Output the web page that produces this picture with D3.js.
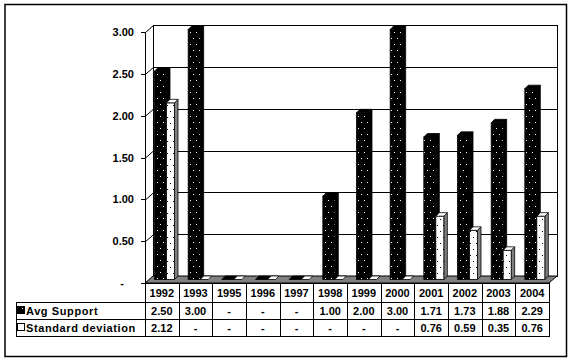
<!DOCTYPE html>
<html>
<head>
<meta charset="utf-8">
<script src="https://cdn.jsdelivr.net/npm/d3@7"></script>
<style>
  body { margin: 0; background: #fff; }
  text { font-family: Arial, "Liberation Sans", sans-serif; font-weight: bold; font-size: 11px; }
</style>
</head>
<body>
<svg id="chart" width="573" height="363"></svg>
<script>
const years = ['1992', '1993', '1995', '1996', '1997', '1998', '1999', '2000', '2001', '2002', '2003', '2004']
const avgSupport = [2.50, 3.00, null, null, null, 1.00, 2.00, 3.00, 1.71, 1.73, 1.88, 2.29]
const stdDev = [2.12, null, null, null, null, null, null, null, 0.76, 0.59, 0.35, 0.76]
const yTicks = [0, 0.5, 1, 1.5, 2, 2.5, 3]
const seriesNames = ['Avg Support', 'Standard deviation']

const svg = d3.select('#chart')

// depth offset of the 3d box
const dx = 8, dy = 7
const x = d3.scaleBand().domain(years).range([145, 549]).paddingInner(0).paddingOuter(0)
const yFront = d3.scaleLinear().domain([0, 3]).range([283, 32])
const yBack = d3.scaleLinear().domain([0, 3]).range([283 - dy, 32 - dy])
const yBar = d3.scaleLinear().domain([0, 3]).range([279.5, 29.5])

const defs = svg.append('defs')
const pDark = defs.append('pattern').attr('id', 'pDark')
  .attr('patternUnits', 'userSpaceOnUse').attr('width', 6).attr('height', 12)
pDark.append('rect').attr('width', 6).attr('height', 12).attr('fill', '#000')
pDark.append('rect').attr('x', 1).attr('y', 2).attr('width', 1).attr('height', 1).attr('fill', '#fff')
pDark.append('rect').attr('x', 4).attr('y', 8).attr('width', 1).attr('height', 1).attr('fill', '#fff')

const pLight = defs.append('pattern').attr('id', 'pLight')
  .attr('patternUnits', 'userSpaceOnUse').attr('width', 6).attr('height', 12)
pLight.append('rect').attr('width', 6).attr('height', 12).attr('fill', '#fff')
pLight.append('rect').attr('x', 2).attr('y', 3).attr('width', 1).attr('height', 1).attr('fill', '#000')
pLight.append('rect').attr('x', 5).attr('y', 9).attr('width', 1).attr('height', 1).attr('fill', '#000')

// outer frame
svg.append('rect').attr('x', 5).attr('y', 4.5).attr('width', 561.5).attr('height', 352)
  .attr('fill', '#fff').attr('stroke', '#000').attr('stroke-width', 1.5)

const x0 = x.range()[0], x1 = x.range()[1]

// back wall
svg.append('rect')
  .attr('x', x0 + dx + 0.5).attr('y', yBack(3) + 0.5)
  .attr('width', x1 - x0).attr('height', yBack(0) - yBack(3))
  .attr('fill', '#fff').attr('stroke', '#000')

// gridlines on back wall + diagonals on side wall
yTicks.forEach(function(t) {
  if (t > 0 && t < 3) {
    svg.append('line')
      .attr('x1', x0 + dx).attr('x2', x1 + dx)
      .attr('y1', Math.round(yBack(t)) + 0.5).attr('y2', Math.round(yBack(t)) + 0.5)
      .attr('stroke', '#000')
  }
  svg.append('line')
    .attr('x1', x0 + 0.5).attr('y1', yFront(t) + 0.5)
    .attr('x2', x0 + dx + 0.5).attr('y2', yBack(t) + 0.5)
    .attr('stroke', '#000')
  svg.append('line')
    .attr('x1', x0 - 4).attr('x2', x0 + 0.5)
    .attr('y1', Math.round(yFront(t)) + 0.5).attr('y2', Math.round(yFront(t)) + 0.5)
    .attr('stroke', '#000')
  svg.append('text')
    .attr('x', t === 0 ? 124 : 134).attr('y', yFront(t) + 4)
    .attr('text-anchor', 'end')
    .text(t === 0 ? '-' : d3.format('.2f')(t))
})

// side wall front edge
svg.append('line').attr('x1', x0 + 0.5).attr('x2', x0 + 0.5)
  .attr('y1', yFront(3)).attr('y2', yFront(0)).attr('stroke', '#000')

// floor
svg.append('path')
  .attr('d', d3.line()([[x0, yFront(0)], [x0 + dx, yBack(0)], [x1 + dx, yBack(0)], [x1, yFront(0)]]) + 'Z')
  .attr('fill', '#808080').attr('stroke', '#000')

// bars
const depth = 3.5
function drawBar(g, bx, w, v, frontFill, sideFill, topFill) {
  const h = v == null ? 0 : v
  const top = yBar(h), bot = yBar(0)
  if (h > 0) {
    g.append('path')
      .attr('d', d3.line()([[bx + w, top], [bx + w + depth, top - depth], [bx + w + depth, bot - depth], [bx + w, bot]]) + 'Z')
      .attr('fill', sideFill).attr('stroke', '#000').attr('stroke-width', 0.8)
    g.append('rect').attr('x', bx).attr('y', top).attr('width', w).attr('height', bot - top)
      .attr('fill', frontFill).attr('stroke', '#000').attr('stroke-width', 0.8)
  }
  g.append('path')
    .attr('d', d3.line()([[bx, top], [bx + depth, top - depth], [bx + w + depth, top - depth], [bx + w, top]]) + 'Z')
    .attr('fill', topFill).attr('stroke', '#000').attr('stroke-width', 0.8)
}

const bars = svg.append('g')
years.forEach(function(yr, i) {
  const cx = x(yr)
  drawBar(bars, cx + 9.5, 12, avgSupport[i], 'url(#pDark)', '#000', '#000')
  drawBar(bars, cx + 21.5, 8, stdDev[i], 'url(#pLight)', '#808080', '#fff')
})

// data table
const tbl = svg.append('g').attr('stroke', '#000').attr('shape-rendering', 'crispEdges')
tbl.append('line').attr('x1', x0).attr('x2', x1).attr('y1', 283.5).attr('y2', 283.5)
tbl.append('line').attr('x1', 16).attr('x2', x1).attr('y1', 302.5).attr('y2', 302.5)
tbl.append('line').attr('x1', 16).attr('x2', x1).attr('y1', 319.5).attr('y2', 319.5)
tbl.append('line').attr('x1', 16).attr('x2', x1).attr('y1', 336.5).attr('y2', 336.5)
tbl.append('line').attr('x1', 16.5).attr('x2', 16.5).attr('y1', 302).attr('y2', 336.5)
years.concat(['end']).forEach(function(yr, i) {
  const vx = Math.round(x0 + i * x.bandwidth()) + 0.5
  tbl.append('line').attr('x1', vx).attr('x2', vx).attr('y1', 283).attr('y2', 336.5)
})

const fmt = function(v) { return v == null ? '-' : d3.format('.2f')(v) }
years.forEach(function(yr, i) {
  const cx = x(yr) + x.bandwidth() / 2
  svg.append('text').attr('x', cx).attr('y', 297).attr('text-anchor', 'middle').text(yr)
  svg.append('text').attr('x', cx).attr('y', 315).attr('text-anchor', 'middle').text(fmt(avgSupport[i]))
  svg.append('text').attr('x', cx).attr('y', 332).attr('text-anchor', 'middle').text(fmt(stdDev[i]))
})

// legend keys in table
svg.append('rect').attr('x', 17.5).attr('y', 306.5).attr('width', 7).attr('height', 7)
  .attr('fill', 'url(#pDark)').attr('stroke', '#000')
svg.append('rect').attr('x', 17.5).attr('y', 323.5).attr('width', 7).attr('height', 7)
  .attr('fill', '#fff').attr('stroke', '#000')
svg.append('text').attr('x', 26).attr('y', 315).attr('letter-spacing', '0.6px').text(seriesNames[0])
svg.append('text').attr('x', 26).attr('y', 332).attr('letter-spacing', '0.6px').text(seriesNames[1])
</script>
</body>
</html>
